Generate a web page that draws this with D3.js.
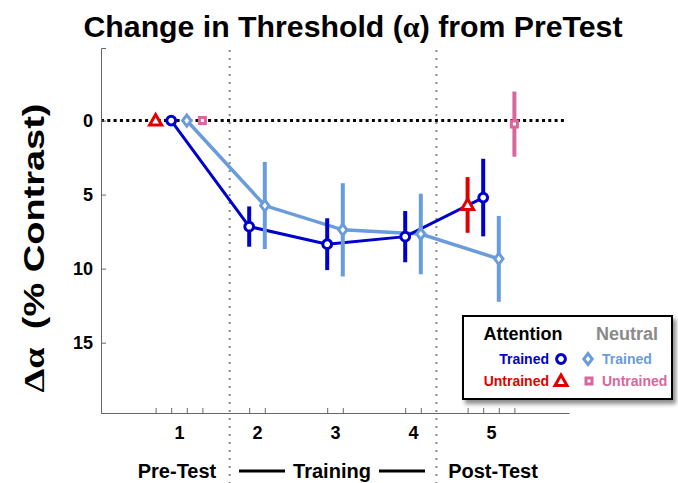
<!DOCTYPE html>
<html>
<head>
<meta charset="utf-8">
<script src="https://cdn.jsdelivr.net/npm/d3@7"></script>
<style>
  body { margin: 0; background: #fff; }
  svg { display: block; font-family: "Liberation Sans", Arial, sans-serif; }
</style>
</head>
<body>
<div id="chart"></div>
<script>
// ---- data ----
const sessions = [1, 2, 3, 4, 5];
const attTrained = [0, 7.16, 8.35, 7.84, 5.2];
const attTrainedErr = [0, 1.36, 1.75, 1.73, 2.62];
const neuTrained = [0, 5.74, 7.38, 7.66, 9.34];
const neuTrainedErr = [0, 2.94, 3.15, 2.72, 2.9];
const untrainedSessions = [1, 5];
const attUntrained = [0, 5.7];
const attUntrainedErr = [0, 1.88];
const neuUntrained = [0, 0.24];
const neuUntrainedErr = [0, 2.2];
const yTicks = [0, 5, 10, 15];
const phaseBreaks = [1.65, 4.3];

const width = 678, height = 483;
const C = { att: "#0000cc", neu: "#6a9cdc", attU: "#e00000", neuU: "#d9669c" };

const svg = d3.select("#chart").append("svg")
  .attr("width", width).attr("height", height);

const x = d3.scaleLinear().domain([0, 6]).range([101, 569]);
const y = d3.scaleLinear().domain([-4.9, 19.75]).range([48, 413]);

// series with their x offsets
const series = [
  { key: "attU", xs: untrainedSessions, v: attUntrained, e: attUntrainedErr, off: -0.3, col: C.attU, shape: "tri", line: false },
  { key: "neu", xs: sessions, v: neuTrained, e: neuTrainedErr, off: 0.1, col: C.neu, shape: "dia", line: true },
  { key: "att", xs: sessions, v: attTrained, e: attTrainedErr, off: -0.1, col: C.att, shape: "circ", line: true },
  { key: "neuU", xs: untrainedSessions, v: neuUntrained, e: neuUntrainedErr, off: 0.3, col: C.neuU, shape: "sq", line: false }
];
series.forEach(s => { s.pts = s.xs.map((d, i) => ({ x: d + s.off, v: s.v[i], e: s.e[i] })); });

// title
const title = svg.append("text")
  .attr("x", 353).attr("y", 37)
  .attr("text-anchor", "middle")
  .attr("font-size", 29).attr("font-weight", "bold")
  .attr("textLength", 539).attr("lengthAdjust", "spacingAndGlyphs");
title.append("tspan").text("Change in Threshold (");
title.append("tspan").attr("font-family", "'Liberation Serif', serif").text("α");
title.append("tspan").text(") from PreTest");

// phase separators
svg.selectAll(".phase").data(phaseBreaks).join("line")
  .attr("x1", d => x(d)).attr("x2", d => x(d))
  .attr("y1", 50).attr("y2", height)
  .attr("stroke", "#888").attr("stroke-width", 2)
  .attr("stroke-dasharray", "2,6");

// zero line
svg.append("line")
  .attr("x1", x(0)).attr("x2", 567)
  .attr("y1", y(0)).attr("y2", y(0))
  .attr("stroke", "#000").attr("stroke-width", 3)
  .attr("stroke-dasharray", "3,3.3");

// axes
const yAxis = svg.append("g").attr("transform", `translate(${x(0)},0)`)
  .call(d3.axisLeft(y).tickValues(yTicks).tickSize(-5).tickSizeOuter(-5).tickPadding(8));
yAxis.selectAll("text").attr("font-size", 18).attr("font-weight", "bold")
  .attr("font-family", "'Liberation Sans', Arial, sans-serif").attr("fill", "#000");

const tickPos = series.flatMap(s => s.pts.map(p => p.x));
const xAxis = svg.append("g").attr("transform", `translate(0,${y.range()[1]})`)
  .call(d3.axisBottom(x).tickValues(tickPos).tickSize(-5).tickSizeOuter(0).tickFormat(""));
const xLab = svg.append("g").attr("transform", `translate(0,${y.range()[1]})`)
  .call(d3.axisBottom(x).tickValues(sessions).tickSize(0).tickPadding(13).tickFormat(d3.format("d")));
xLab.select(".domain").remove();
xLab.selectAll("text").attr("font-size", 18).attr("font-weight", "bold")
  .attr("font-family", "'Liberation Sans', Arial, sans-serif").attr("fill", "#000");
[yAxis, xAxis].forEach(g => g.selectAll("path, line").attr("stroke", "#666"));

// y label
const yl = svg.append("text")
  .attr("transform", "translate(44,248) rotate(-90)")
  .attr("text-anchor", "middle")
  .attr("font-size", 29).attr("font-weight", "bold")
  .attr("textLength", 289).attr("lengthAdjust", "spacingAndGlyphs");
yl.append("tspan").attr("font-family", "'Liberation Serif', serif").text("Δα");
yl.append("tspan").attr("dx", 14).text("(% Contrast)");

// phase labels
const phaseLabels = [
  { t: "Pre-Test", x: 177 },
  { t: "Training", x: 332 },
  { t: "Post-Test", x: 493 }
];
svg.selectAll(".plab").data(phaseLabels).join("text")
  .attr("x", d => d.x).attr("y", 478)
  .attr("text-anchor", "middle")
  .attr("font-size", 20).attr("font-weight", "bold")
  .text(d => d.t);
svg.selectAll(".pdash").data([[239, 285], [379, 425]]).join("line")
  .attr("x1", d => d[0]).attr("x2", d => d[1])
  .attr("y1", 471).attr("y2", 471)
  .attr("stroke", "#000").attr("stroke-width", 3);

// lines
const lineGen = d3.line().x(d => x(d.x)).y(d => y(d.v));
series.filter(s => s.line).forEach(s => {
  svg.append("path").datum(s.pts)
    .attr("d", lineGen)
    .attr("fill", "none").attr("stroke", s.col)
    .attr("stroke-width", s.key === "neu" ? 3.5 : 3);
});

// error bars
series.forEach(s => {
  svg.selectAll(".err-" + s.key).data(s.pts.filter(p => p.e > 0)).join("line")
    .attr("x1", d => x(d.x)).attr("x2", d => x(d.x))
    .attr("y1", d => y(d.v - d.e)).attr("y2", d => y(d.v + d.e))
    .attr("stroke", s.col).attr("stroke-width", 4);
});

// markers
function shapePath(shape) {
  if (shape === "circ") return null;
  if (shape === "tri") return "M0,-6L6,4.5L-6,4.5Z";
  if (shape === "dia") return "M0,-5.5L4.2,0L0,5.5L-4.2,0Z";
  if (shape === "sq") return "M-3,-3H3V3H-3Z";
}
series.forEach(s => {
  const g = svg.selectAll(".mk-" + s.key).data(s.pts).join("g")
    .attr("transform", d => `translate(${x(d.x)},${y(d.v)})`);
  if (s.shape === "circ") {
    g.append("circle").attr("r", 4.4);
  } else {
    g.append("path").attr("d", shapePath(s.shape));
  }
  g.selectAll("circle, path").attr("fill", "#fff").attr("stroke", s.col).attr("stroke-width", 3);
});

// legend
const defs = svg.append("defs");
const f = defs.append("filter").attr("id", "shadow").attr("x", "-10%").attr("y", "-10%").attr("width", "130%").attr("height", "130%");
f.append("feDropShadow").attr("dx", 3).attr("dy", 4).attr("stdDeviation", 2).attr("flood-color", "#000").attr("flood-opacity", 0.45);

const lg = svg.append("g");
lg.append("rect").attr("x", 463).attr("y", 316).attr("width", 209).attr("height", 83)
  .attr("fill", "#fff").attr("stroke", "#000").attr("stroke-width", 2)
  .attr("filter", "url(#shadow)");
lg.append("text").attr("x", 523).attr("y", 340).attr("text-anchor", "middle")
  .attr("font-size", 18).attr("font-weight", "bold").attr("fill", "#000").text("Attention");
lg.append("text").attr("x", 627).attr("y", 340).attr("text-anchor", "middle")
  .attr("font-size", 18).attr("font-weight", "bold").attr("fill", "#8a8a8a").text("Neutral");

const legRows = [
  { t: "Trained", col: C.att, shape: "circ", x: 561, y: 359, side: "left" },
  { t: "Untrained", col: C.attU, shape: "tri", x: 561, y: 381, side: "left" },
  { t: "Trained", col: C.neu, shape: "dia", x: 588, y: 359, side: "right" },
  { t: "Untrained", col: C.neuU, shape: "sq", x: 589, y: 381, side: "right" }
];
legRows.forEach(r => {
  const g = lg.append("g").attr("transform", `translate(${r.x},${r.y})`);
  if (r.shape === "circ") g.append("circle").attr("r", 4.4);
  else g.append("path").attr("d", shapePath(r.shape));
  g.selectAll("circle, path").attr("fill", "#fff").attr("stroke", r.col).attr("stroke-width", 3);
  lg.append("text")
    .attr("x", r.side === "left" ? r.x - 12 : 602)
    .attr("y", r.y + 5)
    .attr("text-anchor", r.side === "left" ? "end" : "start")
    .attr("font-size", 14).attr("font-weight", "bold").attr("fill", r.col)
    .text(r.t);
});
</script>
</body>
</html>
